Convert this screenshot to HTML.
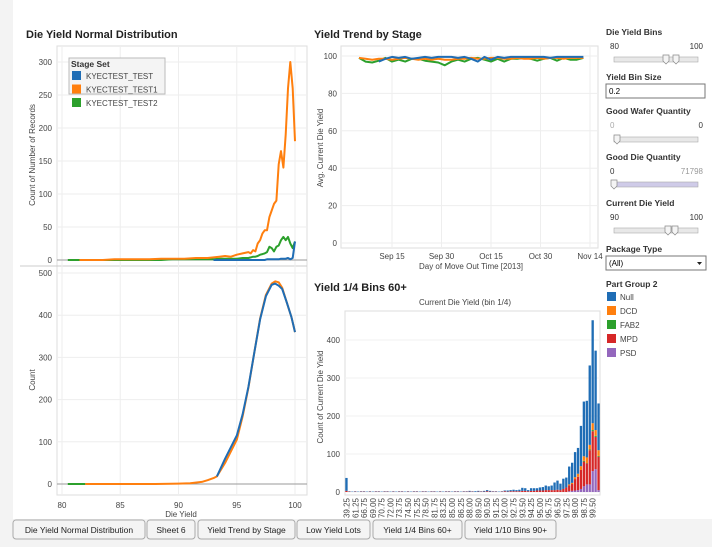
<!DOCTYPE html>
<html><head><meta charset="utf-8"><style>
html,body{margin:0;padding:0;background:#f3f3f3;}
svg{display:block;font-family:"Liberation Sans",sans-serif;}
.t{font-size:8px;fill:#444;}
.h{font-size:11px;font-weight:bold;fill:#222;}
.f{font-size:8.5px;font-weight:bold;fill:#333;}
</style></head><body>
<svg id="s" width="712" height="547" viewBox="0 0 712 547">
<rect x="13" y="0" width="699" height="519" fill="#fff"/>
<text x="26" y="38" class="h">Die Yield Normal Distribution</text>
<text x="314" y="38" class="h">Yield Trend by Stage</text>
<text x="314" y="291" class="h">Yield 1/4 Bins 60+</text>
<g id="dist"></g>
<g id="trend"></g>
<g id="bars"></g>
<g id="panel"></g>
<g id="tabs"></g>
</svg>
<script>
// ---- distribution (top) ----
const distX = [80.5,81.5,82.5,83.5,84.5,85.5,86.5,87.5,88.5,89.5,90.5,91.5,92.5,93,93.5,94,94.5,95,95.5,96,96.2,96.4,96.6,96.8,97,97.2,97.4,97.6,97.8,98,98.2,98.4,98.6,98.8,99,99.2,99.4,99.6,99.8,100];
const distOrange = [null,0,0,0,1,1,1,1,2,2,2,3,3,4,5,6,5,8,10,12,10,15,13,25,30,40,45,45,65,75,85,90,145,165,140,190,260,300,260,180];
const distGreen = [0,0,0,0,0,0,0,0,0,1,1,1,1,1,2,2,2,2,3,3,4,5,5,6,8,9,10,12,20,18,13,20,22,30,35,30,35,25,18,28];
const distBlue = [null,null,null,null,null,null,null,null,null,null,null,null,null,0,0,0,0,0,0,0,0,0,0,0,0,0,0,1,1,1,1,1,1,2,2,2,3,1,3,28];
const distTicksY = [0,50,100,150,200,250,300];
// ---- distribution (bottom, smoothed) ----
const curveX = [80.5,82,84,86,88,90,91,92,92.5,93,93.3,94,95,95.5,96,96.5,97,97.5,98,98.3,98.6,98.9,99.3,99.7,100];
const curveBlue = [null,null,null,null,null,null,null,null,null,null,18,60,115,165,230,310,390,445,472,475,470,462,430,395,360];
const curveOrange = [null,0,0,0,0,1,2,5,9,14,18,50,105,160,228,310,392,448,475,480,478,465,430,395,360];
const curveGreen = [0,0,null,null,null,null,null,null,null,null,null,null,null,null,null,null,null,null,null,null,null,null,null,null,null];
const curveTicksY = [0,100,200,300,400,500];
const dieYieldTicks = [80,85,90,95,100];
// ---- trend ----
const trendDays = [5,7,9,11,13,15,17,19,21,23,25,27,29,31,33,35,37,39,41,43,45,47,49,51,53,55,57,59,61,63,65,67,69,71,73];
const trendOrange = [99,98.5,98,98.5,98.5,98,98.5,99,98.5,98,98.5,98,98.5,98,98,98.5,98.5,99,98.5,98.5,99,99,98.5,98.5,99,98.5,98.5,99,98.5,99,99,98.5,99,99,99];
const trendGreen = [99,97,96.5,97.5,99,97,98,97,98.5,98.5,97.5,97,96.5,95,97,98,97,98.5,99,98,97,98.5,97,98.5,98.5,99,98.5,97.5,98.5,99,97.5,99,98,98,99];
const trendBlue = [null,null,null,97,98.5,99.5,99,99.5,98.5,99,99.5,99,99.5,99.5,99.5,99,99.5,98.5,97,99.5,98,99.5,99,99.5,99.5,99.5,99.5,99.5,99.5,99,99.5,99.5,99.5,99.5,99.5];
const trendTicksY = [0,20,40,60,80,100];
const trendTickDays = [15,30,45,60,75];
const trendTickLabels = ["Sep 15","Sep 30","Oct 15","Oct 30","Nov 14"];
// ---- bins ----
const binCats = ["39.25","39.50","60.75","61.25","63.00","65.50","66.75","67.50","68.25","69.00","69.75","70.25","70.75","71.25","71.50","72.00","72.75","73.25","73.75","74.00","74.25","74.50","74.75","75.00","75.25","76.50","77.75","78.50","79.75","80.50","81.75","82.25","82.75","83.25","83.75","84.50","85.00","85.50","85.75","86.25","87.00","87.50","88.00","88.50","89.00","89.50","89.75","90.25",
"90.50","90.75","91.00","91.25","91.50","91.75","92.00","92.25","92.50","92.75","93.00","93.25","93.50","93.75","94.00","94.25","94.50","94.75","95.00","95.25","95.50","95.75","96.00","96.25","96.50","96.75","97.00","97.25","97.50","97.75","98.00","98.25","98.50","98.75","99.00","99.25","99.50","99.75","100.00"];
const binPSD = [0,0,0,0,0,0,0,0,0,0,0,0,0,0,0,0,0,0,0,0,0,0,0,0,0,0,0,0,0,0,0,0,0,0,0,0,0,0,0,0,0,0,0,0,0,0,0,0,
0,0,0,0,0,0,0,0,0,0,0,0,0,0,0,0,0,0,0,0,0,0,0,0,0,0,0,0,2,3,4,5,8,15,20,20,55,60,5];
const binMPD = [3,1,0,1,0,1,1,0,1,0,1,1,0,1,1,0,1,0,1,1,0,1,0,1,1,0,1,1,0,1,1,0,1,0,1,1,0,1,1,0,1,1,1,1,0,1,1,1,
2,1,1,1,0,1,2,1,2,2,2,2,3,3,2,3,3,4,4,4,5,5,5,5,6,5,8,12,15,18,30,35,50,65,55,90,105,85,88];
const binFAB2 = [0,0,0,0,0,0,0,0,0,0,0,0,0,0,0,0,0,0,0,0,0,0,0,0,0,0,0,0,0,0,0,0,0,0,0,0,0,0,0,0,0,0,0,0,0,0,0,0,
0,0,0,0,0,0,0,0,0,0,0,0,0,0,0,0,0,0,0,0,0,0,0,0,0,0,0,0,0,0,0,0,0,2,1,2,3,3,2];
const binDCD = [0,0,0,0,0,0,0,0,0,0,0,0,0,0,0,0,0,0,0,0,0,0,0,0,0,0,0,0,0,0,0,0,0,0,0,0,0,0,0,0,0,0,0,0,0,0,0,0,
0,0,0,0,0,0,0,0,0,0,0,0,0,0,0,0,0,0,0,0,0,0,0,0,0,0,0,0,3,3,5,8,10,12,15,12,18,15,15];
const binNull = [34,1,1,1,1,1,1,1,1,1,1,1,1,1,1,1,1,1,1,1,1,1,1,1,1,1,1,1,1,1,1,1,1,1,1,1,1,1,1,1,1,1,2,1,2,2,1,2,
3,2,1,1,1,1,2,3,3,4,3,4,8,7,3,7,7,6,8,9,12,10,12,20,24,17,27,26,47,53,66,68,106,144,149,209,271,209,123];
const binTicksY = [0,100,200,300,400];
const partGroups = ["Null","DCD","FAB2","MPD","PSD"];
const stageSets = ["KYECTEST_TEST","KYECTEST_TEST1","KYECTEST_TEST2"];

const NS="http://www.w3.org/2000/svg";
const BLUE="#1f6db5",ORANGE="#ff7f0e",GREEN="#2ca02c",RED="#d62728",PURPLE="#9467bd";
function mk(parent,tag,attrs,txt){const e=document.createElementNS(NS,tag);for(const k in attrs)e.setAttribute(k,attrs[k]);if(txt!==undefined)e.textContent=txt;parent.appendChild(e);return e;}
function pathFrom(xs,ys,fx,fy){let d="",pen=false;for(let i=0;i<xs.length&&i<ys.length;i++){if(ys[i]===null){pen=false;continue;}d+=(pen?"L":"M")+fx(xs[i]).toFixed(1)+","+fy(ys[i]).toFixed(1);pen=true;}return d;}

// distribution chart
(function(){
const g=document.getElementById('dist');
const xD=v=>62+(v-80)*11.65, yT=v=>260-v*0.66, yB=v=>484-v*0.422;
let e=mk(g,'rect',{x:57,y:46,width:250,height:449,fill:'none',stroke:'#ddd'});

mk(g,'line',{x1:20,x2:307,y1:266,y2:266,stroke:'#ccc'});
dieYieldTicks.forEach(v=>{mk(g,'line',{x1:xD(v),x2:xD(v),y1:46,y2:495,stroke:'#eee'});
 const t=mk(g,'text',{x:xD(v),y:508,'text-anchor':'middle',class:'t'},String(v));
 });
distTicksY.forEach(v=>{mk(g,'line',{x1:57,x2:307,y1:yT(v),y2:yT(v),stroke:v?'#eee':'#999'});
 const t=mk(g,'text',{x:52,y:yT(v)+3,'text-anchor':'end',class:'t'},String(v));
 });
curveTicksY.forEach(v=>{mk(g,'line',{x1:57,x2:307,y1:yB(v),y2:yB(v),stroke:v?'#eee':'#999'});
 const t=mk(g,'text',{x:52,y:yB(v)+3,'text-anchor':'end',class:'t'},String(v));
 });
let a=mk(g,'text',{x:0,y:0,class:'t',transform:'translate(35,155) rotate(-90)','text-anchor':'middle'},'Count of Number of Records');

a=mk(g,'text',{x:0,y:0,class:'t',transform:'translate(35,380) rotate(-90)','text-anchor':'middle'},'Count');

a=mk(g,'text',{x:181,y:517,'text-anchor':'middle',class:'t'},'Die Yield');

[[distGreen,GREEN,'green'],[distOrange,ORANGE,'orange'],[distBlue,BLUE,'blue']].forEach(s=>{
 const p=mk(g,'path',{d:pathFrom(distX,s[0],xD,yT),fill:'none',stroke:s[1],'stroke-width':2,'stroke-linejoin':'round'});
 });
[[curveGreen,GREEN,'green'],[curveOrange,ORANGE,'orange'],[curveBlue,BLUE,'blue']].forEach(s=>{
 const p=mk(g,'path',{d:pathFrom(curveX,s[0],xD,yB),fill:'none',stroke:s[1],'stroke-width':2,'stroke-linejoin':'round'});
 });
// legend
const lg=mk(g,'g',{});

mk(lg,'rect',{x:69,y:58,width:96,height:36,fill:'#f4f4f4',stroke:'#bbb'});
mk(lg,'text',{x:71,y:67,class:'f'},'Stage Set');
[BLUE,ORANGE,GREEN].forEach((c,i)=>{const y=71+i*13.5;
 const r=mk(lg,'rect',{x:72,y:y,width:9,height:9,fill:c});
 
 const t=mk(lg,'text',{x:86,y:y+8,class:'t'},stageSets[i]);
 });
})();

// trend chart
(function(){
const g=document.getElementById('trend');
const xT=d=>392+(d-15)*3.3, yT=v=>243-v*1.87;
mk(g,'rect',{x:341,y:46,width:257,height:202,fill:'none',stroke:'#ddd'});
trendTickDays.forEach((d,i)=>{mk(g,'line',{x1:xT(d),x2:xT(d),y1:46,y2:248,stroke:'#eee'});
 const t=mk(g,'text',{x:xT(d),y:259,'text-anchor':'middle',class:'t'},trendTickLabels[i]);
 });
trendTicksY.forEach(v=>{mk(g,'line',{x1:341,x2:598,y1:yT(v),y2:yT(v),stroke:'#eee'});
 const t=mk(g,'text',{x:337,y:yT(v)+3,'text-anchor':'end',class:'t'},String(v));
 });
let a=mk(g,'text',{x:0,y:0,class:'t',transform:'translate(323,148) rotate(-90)','text-anchor':'middle'},'Avg. Current Die Yield');

a=mk(g,'text',{x:471,y:269,'text-anchor':'middle',class:'t'},'Day of Move Out Time [2013]');

[[trendGreen,GREEN,'green'],[trendOrange,ORANGE,'orange'],[trendBlue,BLUE,'blue']].forEach(s=>{
 const p=mk(g,'path',{d:pathFrom(trendDays,s[0],xT,yT),fill:'none',stroke:s[1],'stroke-width':2,'stroke-linejoin':'round'});
 });
})();

// bins chart
(function(){
const g=document.getElementById('bars');
const step=255/binCats.length, xB=i=>345+i*step, yB=v=>492-v*0.38;
mk(g,'rect',{x:345,y:311,width:255,height:184,fill:'none',stroke:'#ddd'});
let a=mk(g,'text',{x:465,y:305,'text-anchor':'middle',class:'t'},'Current Die Yield (bin 1/4)');

a=mk(g,'text',{x:0,y:0,class:'t',transform:'translate(323,397) rotate(-90)','text-anchor':'middle'},'Count of Current Die Yield');

binTicksY.forEach(v=>{mk(g,'line',{x1:345,x2:600,y1:yB(v),y2:yB(v),stroke:'#f2f2f2'});
 const t=mk(g,'text',{x:340,y:yB(v)+3,'text-anchor':'end',class:'t'},String(v));
 });
const series=[[binPSD,PURPLE],[binMPD,RED],[binFAB2,GREEN],[binDCD,ORANGE],[binNull,BLUE]];
binCats.forEach((c,i)=>{let base=0;
 series.forEach(s=>{const v=s[0][i];if(v>0){
  const r=mk(g,'rect',{x:(xB(i)+0.3).toFixed(2),y:yB(base+v).toFixed(2),width:(step-0.6).toFixed(2),height:(v*0.38).toFixed(2),fill:s[1]});
  }
  base+=v;});
 if(i%3===0){const t=mk(g,'text',{x:0,y:0,class:'t','text-anchor':'end',transform:'translate('+(xB(i)+step/2+3).toFixed(1)+',498) rotate(-90)'},c);
  }
});
})();

// filter panel
(function(){
const g=document.getElementById('panel');
function title(y,t,n){const e=mk(g,'text',{x:606,y:y,class:'f'},t);}
function lbl(x,y,t,c,anc){mk(g,'text',{x:x,y:y,class:'t',fill:c||'#333',style:'fill:'+(c||'#333'),'text-anchor':anc||'start'},t);}
function slider(y,n,thumbs,fill){const tr=mk(g,'rect',{x:614,y:y,width:84,height:5,fill:fill||'#e8e8e8',stroke:'#aaa','stroke-width':0.6});
 
 thumbs.forEach(tx=>{const th=mk(g,'path',{d:`M${tx-3},${y-2}h6v6l-3,3l-3,-3z`,fill:'#f4f4f4',stroke:'#888','stroke-width':0.7});
  });}
title(35,'Die Yield Bins','die-yield-bins-title');lbl(610,49,'80');lbl(703,49,'100',null,'end');
slider(57,'die-yield-bins-slider',[666,676]);
title(80,'Yield Bin Size','yield-bin-size-title');
const ib=mk(g,'rect',{x:606,y:84,width:99,height:14,fill:'#fff',stroke:'#777'});

lbl(609,94,'0.2','#000');
title(114,'Good Wafer Quantity','good-wafer-title');lbl(610,128,'0','#aaa');lbl(703,128,'0',null,'end');
slider(137,'good-wafer-slider',[617]);
title(160,'Good Die Quantity','good-die-title');lbl(610,174,'0');lbl(703,174,'71798','#999','end');
slider(182,'good-die-slider',[614],'#cfcbe8');
title(206,'Current Die Yield','current-die-yield-title');lbl(610,220,'90');lbl(703,220,'100',null,'end');
slider(228,'current-die-yield-slider',[668,675]);
title(252,'Package Type','package-type-title');
const sel=mk(g,'rect',{x:606,y:256,width:100,height:14,fill:'#fff',stroke:'#777'});

lbl(609,266,'(All)','#000');mk(g,'path',{d:'M697,262h5l-2.5,3z',fill:'#222'});
title(287,'Part Group 2','part-group-title');
[BLUE,ORANGE,GREEN,RED,PURPLE].forEach((c,i)=>{const y=292+i*14;
 const r=mk(g,'rect',{x:607,y:y,width:9,height:9,fill:c});
 
 const t=mk(g,'text',{x:620,y:y+8,class:'t'},partGroups[i]);
 });
})();

// tabs
(function(){
const g=document.getElementById('tabs');
const tabs=[["Die Yield Normal Distribution",13,145],["Sheet 6",147,195],["Yield Trend by Stage",198,295],["Low Yield Lots",297,370],["Yield 1/4 Bins 60+",373,462],["Yield 1/10 Bins 90+",465,556]];
tabs.forEach(t=>{const r=mk(g,'rect',{x:t[1],y:520,width:t[2]-t[1],height:19,rx:3,fill:'#f4f4f4',stroke:'#aaa'});
 
 mk(g,'text',{x:(t[1]+t[2])/2,y:533,'text-anchor':'middle',style:'font-size:8.5px;fill:#222'},t[0]);});
})();
</script>
</body></html>
